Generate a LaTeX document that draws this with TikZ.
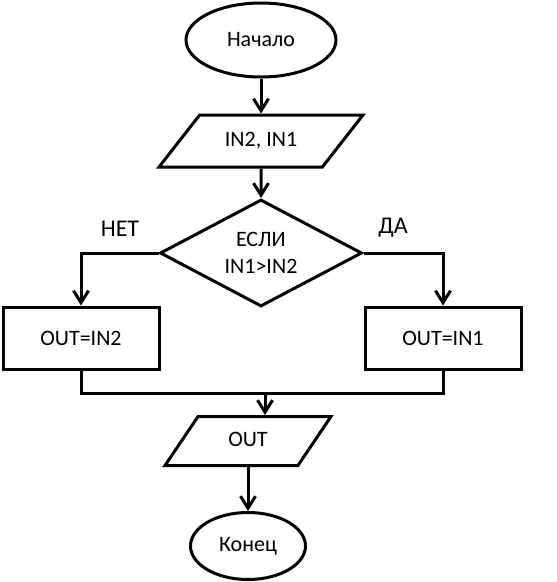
\documentclass[tikz,border=0pt]{standalone}
\usepackage{fontspec}
\setmainfont{Carlito}
\usetikzlibrary{shapes.geometric,arrows.meta}

\begin{document}
\begin{tikzpicture}[x=1pt,y=-1pt,line width=3pt,
    >={Straight Barb[length=12pt,width=15pt]},
    every node/.style={font=\fontsize{22}{27}\selectfont},
    terminal/.style={draw,ellipse,inner sep=0pt},
    inout/.style={draw,trapezium,trapezium stretches body=true,inner xsep=0pt,
        text height=14pt,text depth=4pt},
    process/.style={draw,rectangle,inner sep=0pt,minimum width=156pt,minimum height=62pt},
    decision/.style={draw,diamond,aspect=1.9,inner sep=0pt,align=center,
        minimum width=202pt,minimum height=107pt},
    branchlabel/.style={font=\fontsize{24}{28}\selectfont}]
    \useasboundingbox (0,0) rectangle (557,582);

    \pgfmathsetmacro{\xl}{81}
    \pgfmathsetmacro{\xm}{261}
    \pgfmathsetmacro{\xr}{443}

    \node[terminal,minimum width=150pt,minimum height=74pt] (start) at (\xm,40) {Начало};
    \node[inout,trapezium left angle=52,trapezium right angle=128,inner ysep=17pt,
          minimum width=204pt] (input) at (\xm,141) {IN2, IN1};
    \node[decision] (check) at (\xm,253) {ЕСЛИ\\IN1>IN2};
    \node[process] (no) at (\xl,338) {OUT=IN2};
    \node[process] (yes) at (\xr,338) {OUT=IN1};
    \coordinate (join) at (265,393);
    \node[inout,trapezium left angle=56,trapezium right angle=124,inner ysep=15.5pt,
          minimum width=166pt] (output) at (248,441) {OUT};
    \node[terminal,minimum width=115pt,minimum height=67pt] (stop) at (248,546) {Конец};

    \node[branchlabel] (nolabel) at (120,229) {НЕТ};
    \node[branchlabel] (yeslabel) at (393,228) {ДА};

    \draw[->] (start) -- (input);
    \draw[->] (input) -- (check);
    \draw[->] (check.west) -| (no.north);
    \draw[->] (check.east) -| (yes.north);
    \draw (no.south) |- (join) (yes.south) |- (join);
    \draw[->] (join) -- (join |- output.north);
    \draw[->] (output) -- (stop);

\end{tikzpicture}
\end{document}
